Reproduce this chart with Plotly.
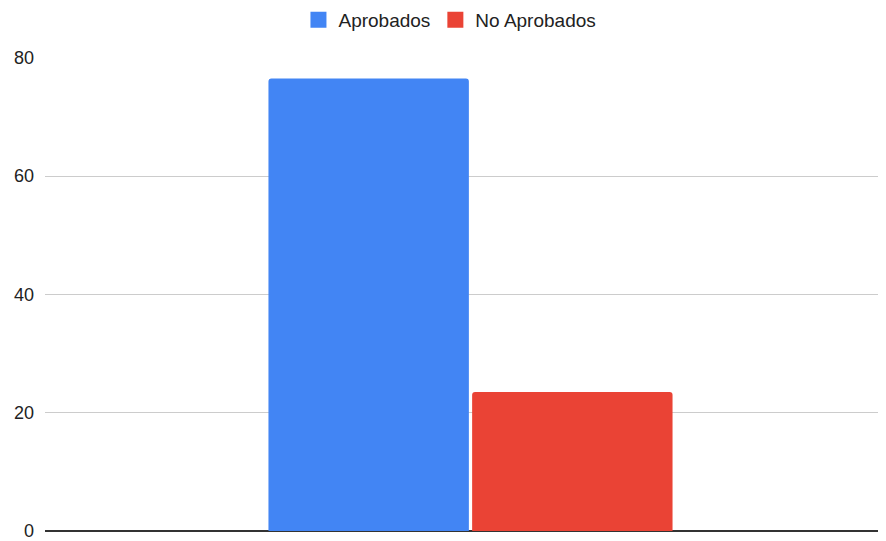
import plotly.graph_objects as go

categories = [""]
series_names = ["Aprobados", "No Aprobados"]
aprobados = [76.5]
no_aprobados = [23.5]
colors = ["#4285F4", "#EA4335"]
tick_vals = [0, 20, 40, 60, 80]

fig = go.Figure()
for name, vals, col in zip(series_names, [aprobados, no_aprobados], colors):
    fig.add_trace(go.Bar(x=categories, y=vals, name=name, showlegend=False, legendgroup=name,
                         marker=dict(color=col, line=dict(width=0))))
for name, col in zip(series_names, colors):
    fig.add_trace(go.Scatter(x=[None], y=[None], mode="markers", name=name, legendgroup=name,
                             marker=dict(symbol="square", size=18, color=col, line=dict(width=0))))

fig.update_layout(
    width=870, height=533,
    margin=dict(l=37, r=0, t=49, b=10, autoexpand=False),
    paper_bgcolor="white", plot_bgcolor="white",
    font=dict(family="Arial, Liberation Sans, sans-serif", size=18, color="#222222"),
    barmode="group", bargap=0.511, bargroupgap=0.016,
    barcornerradius=3,
    showlegend=True,
    legend=dict(orientation="h", x=0.508, xanchor="center", xref="container",
                y=1 - 12 / 533, yanchor="middle", yref="container",
                font=dict(size=19, color="#222222"), itemwidth=30),
    xaxis=dict(range=[-0.5108, 0.4892], showticklabels=False, showgrid=False, zeroline=False,
               showline=False, ticks=""),
    yaxis=dict(range=[0, 80.15], tickvals=tick_vals, showgrid=True, gridcolor="#cccccc", gridwidth=1,
               zeroline=True, zerolinecolor="#333333", zerolinewidth=2, showline=False,
               ticks="", ticklabelstandoff=10, ticklabeloverflow="allow",
               tickfont=dict(size=18, color="#222222")),
)

fig.write_html("out.html")
